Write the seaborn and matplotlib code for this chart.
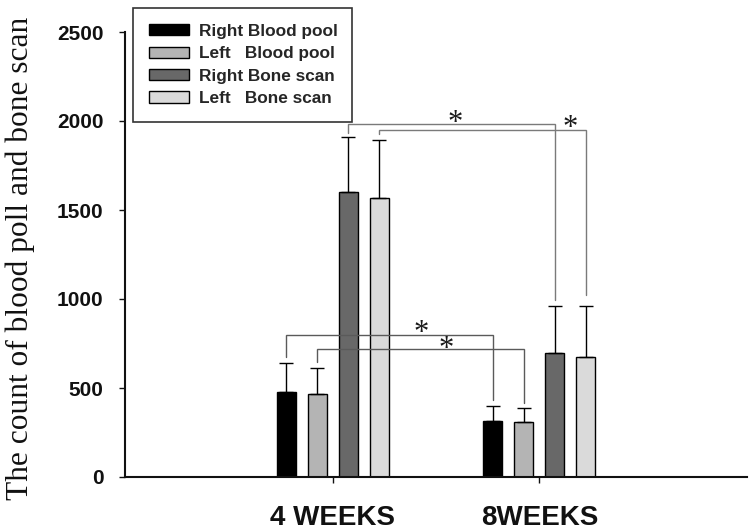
import matplotlib
matplotlib.use("Agg")
import matplotlib.pyplot as plt
import seaborn as sns
import pandas as pd

# ---- data ----
weeks = ["4 WEEKS", "8WEEKS"]
series = ["Right Blood pool", "Left   Blood pool", "Right Bone scan", "Left   Bone scan"]
right_blood_pool = [479, 316]
left_blood_pool = [465, 311]
right_bone_scan = [1599, 695]
left_bone_scan = [1567, 672]
right_blood_pool_err = [160, 83]
left_blood_pool_err = [146, 75]
right_bone_scan_err = [309, 266]
left_bone_scan_err = [326, 289]
y_ticks = [0, 500, 1000, 1500, 2000, 2500]

means = [right_blood_pool, left_blood_pool, right_bone_scan, left_bone_scan]
errs = [right_blood_pool_err, left_blood_pool_err, right_bone_scan_err, left_bone_scan_err]

# significance brackets (series index compared between 4 and 8 weeks)
bracket_series = [2, 3, 0, 1]
bracket_top = [1983, 1949, 799, 719]
bracket_left_end = [1931, 1925, 676, 648]
bracket_right_end = [994, 1022, 433, 414]
bracket_colors = ["#7a7a7a", "#7a7a7a", "#5a5a5a", "#5a5a5a"]
star_frac = [0.517, 0.925, 0.655, 0.626]
star_y = [2022, 1992, 843, 753]

rows = []
for s, m in zip(series, means):
    for w, v in zip(weeks, m):
        rows.append({"week": w, "series": s, "count": v})
df = pd.DataFrame(rows)

colors = ["#000000", "#b4b4b4", "#686868", "#dadada"]

sns.set_style("ticks")
plt.rcParams["font.family"] = ["Liberation Sans", "DejaVu Sans"]

fig = plt.figure(figsize=(7.51, 5.31), dpi=100)
ax = fig.add_axes([125 / 751, 1 - 477 / 531, 622 / 751, 445 / 531])

sns.barplot(data=df, x="week", y="count", hue="series", hue_order=series,
            order=weeks, palette=colors, width=0.6, gap=0.39,
            edgecolor="black", linewidth=1.0, errorbar=None, legend=False, ax=ax)

bar_containers = list(ax.containers)
centers = []
for i, cont in enumerate(bar_containers):
    xs = [p.get_x() + p.get_width() / 2 for p in cont.patches]
    hs = [p.get_height() for p in cont.patches]
    centers.append(xs)
    ax.errorbar(xs, hs, yerr=[[0] * len(errs[i]), errs[i]], fmt="none",
                ecolor="black", elinewidth=1.0, capsize=4.7, capthick=1.0, zorder=3)

star_size = 22
for k, si in enumerate(bracket_series):
    x0 = centers[si][0]
    x1 = centers[si][1]
    c = bracket_colors[k]
    ax.plot([x0, x0, x1, x1],
            [bracket_left_end[k], bracket_top[k], bracket_top[k], bracket_right_end[k]],
            color=c, lw=1.0, zorder=2, solid_joinstyle="miter")
    ax.annotate("*", xy=(x0 + star_frac[k] * (x1 - x0), star_y[k]),
                xytext=(0, -0.46 * star_size), textcoords="offset points",
                family="Liberation Serif", fontsize=star_size, ha="center",
                va="baseline", color="#1a1a1a")

ax.set_xlim(-1.005, 2.005)
ax.set_ylim(0, 2500)
ax.set_yticks(y_ticks)
ax.set_xlabel("")
ax.set_ylabel("The count of blood poll and bone scan", family="Liberation Serif",
              fontsize=22.6, color="#111111")
ax.yaxis.set_label_coords(-0.1447, 0.492)

ax.tick_params(axis="y", length=4.5, width=1.0, pad=11, labelsize=15, colors="#111111")
ax.tick_params(axis="x", length=4, width=1.0, pad=16, labelsize=20, colors="#111111")
for lab in ax.get_xticklabels() + ax.get_yticklabels():
    lab.set_fontweight("bold")

for side in ["top", "right"]:
    ax.spines[side].set_visible(False)
for side in ["left", "bottom"]:
    ax.spines[side].set_linewidth(1.5)
    ax.spines[side].set_color("#111111")

handles = [cont.patches[0] for cont in bar_containers]
leg = ax.legend(handles, series, loc="upper left", mode="expand",
                bbox_to_anchor=(133 / 751, 1 - 121 / 531, 219 / 751, 113 / 531),
                bbox_transform=fig.transFigure,
                borderaxespad=0, prop=dict(family="Liberation Sans", weight="bold", size=12.4),
                handlelength=2.32, handleheight=0.62, handletextpad=0.58,
                labelspacing=0.43, borderpad=0.92, frameon=True, fancybox=False,
                framealpha=1, edgecolor="#333333")
leg.get_frame().set_linewidth(1.2)

fig.savefig("out.png", dpi=100)
